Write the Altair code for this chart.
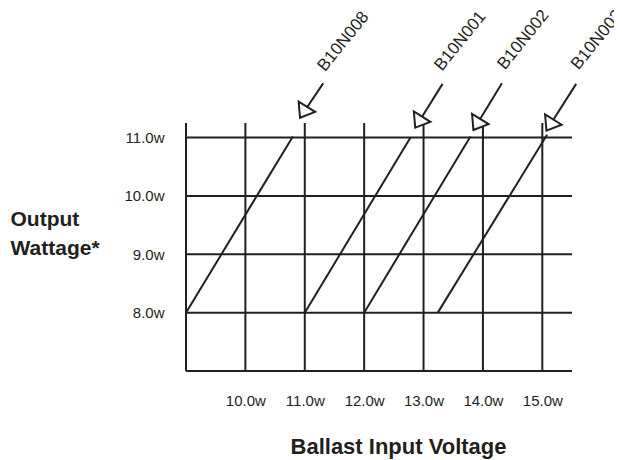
import altair as alt
import pandas as pd

# ---- data ----
grid_x = [9, 10, 11, 12, 13, 14, 15]          # vertical grid lines (volts)
grid_y = [7, 8, 9, 10, 11]                    # horizontal grid lines (watts)
x_label_values = [10, 11, 12, 13, 14, 15]
y_label_values = [8, 9, 10, 11]
x_domain = [9, 15.5]
y_domain = [7, 11.25]

series_names = ["B10N008", "B10N001", "B10N002", "B10N003"]
x_start = [9.0, 11.0, 12.0, 13.24]
y_start = [8.0, 8.0, 8.0, 8.0]
x_end = [10.80, 12.78, 13.79, 15.08]
y_end = [11.02, 11.0, 11.02, 11.05]

# annotation arrows (tail -> tip) and label anchors
arrow_tail_x = [11.31, 13.32, 14.32, 15.57]
arrow_tail_y = [11.93, 11.92, 11.93, 11.92]
arrow_tip_x = [10.92, 12.86, 13.84, 15.07]
arrow_tip_y = [11.34, 11.17, 11.13, 11.12]
label_x = [11.34, 13.31, 14.37, 15.61]
label_y = [12.12, 12.13, 12.15, 12.15]

INK = "#231f20"

lines_df = pd.DataFrame({
    "name": series_names * 2,
    "volt": x_start + x_end,
    "watt": y_start + y_end,
})
ann_df = pd.DataFrame({
    "name": series_names,
    "tx": arrow_tail_x, "ty": arrow_tail_y,
    "hx": arrow_tip_x, "hy": arrow_tip_y,
    "lx": label_x, "ly": label_y,
})
vgrid_df = pd.DataFrame({"x": grid_x, "y": [y_domain[0]] * len(grid_x), "y2": [y_domain[1]] * len(grid_x)})
hgrid_df = pd.DataFrame({"y": grid_y, "x": [x_domain[0]] * len(grid_y), "x2": [x_domain[1]] * len(grid_y)})

xs = alt.Scale(domain=x_domain, nice=False, zero=False)
ys = alt.Scale(domain=y_domain, nice=False, zero=False)

x_axis = alt.Axis(
    values=x_label_values, grid=False, domain=False, ticks=False,
    labelExpr="format(datum.value, '.1f') + 'w'",
    labelFont="Liberation Sans", labelFontSize=15, labelColor=INK, labelPadding=22,
    title="Ballast Input Voltage", titleFont="Liberation Sans",
    titleFontSize=22, titleFontWeight="bold", titleColor=INK,
    titleX=212, titleY=82, titleAlign="center", titleBaseline="alphabetic",
)
y_axis = alt.Axis(
    values=y_label_values, grid=False, domain=False, ticks=False,
    labelExpr="format(datum.value, '.1f') + 'w'",
    labelFont="Liberation Sans", labelFontSize=15, labelColor=INK, labelPadding=22,
    title=["Output", "Wattage*"], titleFont="Liberation Sans",
    titleFontSize=21, titleFontWeight="bold", titleColor=INK, titleAngle=0,
    titleX=-176, titleY=102, titleAlign="left", titleBaseline="alphabetic",
    titleLineHeight=29,
)

vgrid = alt.Chart(vgrid_df).mark_rule(color=INK, strokeWidth=2).encode(
    x=alt.X("x:Q", scale=xs, axis=x_axis),
    y=alt.Y("y:Q", scale=ys, axis=y_axis),
    y2="y2:Q",
)
hgrid = alt.Chart(hgrid_df).mark_rule(color=INK, strokeWidth=2).encode(
    x=alt.X("x:Q", scale=xs),
    x2="x2:Q",
    y=alt.Y("y:Q", scale=ys),
)
curves = alt.Chart(lines_df).mark_line(color=INK, strokeWidth=2).encode(
    x=alt.X("volt:Q", scale=xs),
    y=alt.Y("watt:Q", scale=ys),
    detail="name:N",
)
shafts = alt.Chart(ann_df).mark_rule(color=INK, strokeWidth=2).encode(
    x=alt.X("tx:Q", scale=xs), y=alt.Y("ty:Q", scale=ys),
    x2="hx:Q", y2="hy:Q",
)
heads = alt.Chart(ann_df).mark_point(
    shape="M0,0L-0.75,-1L0.75,-1Z", filled=True, fill="white", stroke=INK,
    strokeWidth=2, size=676, angle=32, opacity=1,
).encode(
    x=alt.X("hx:Q", scale=xs), y=alt.Y("hy:Q", scale=ys),
)
labels = alt.Chart(ann_df).mark_text(
    align="left", baseline="alphabetic", angle=309, font="Liberation Sans",
    fontSize=17, color=INK,
).encode(
    x=alt.X("lx:Q", scale=xs), y=alt.Y("ly:Q", scale=ys), text="name:N",
)

chart = alt.layer(vgrid, hgrid, curves, shafts, heads, labels).properties(
    width=386, height=248,
    autosize="none",
    padding={"left": 178, "top": 115, "right": 42, "bottom": 89},
    background="white",
).configure_view(stroke=None)

chart.save("out.html", embed_options={"renderer": "svg", "actions": False})
